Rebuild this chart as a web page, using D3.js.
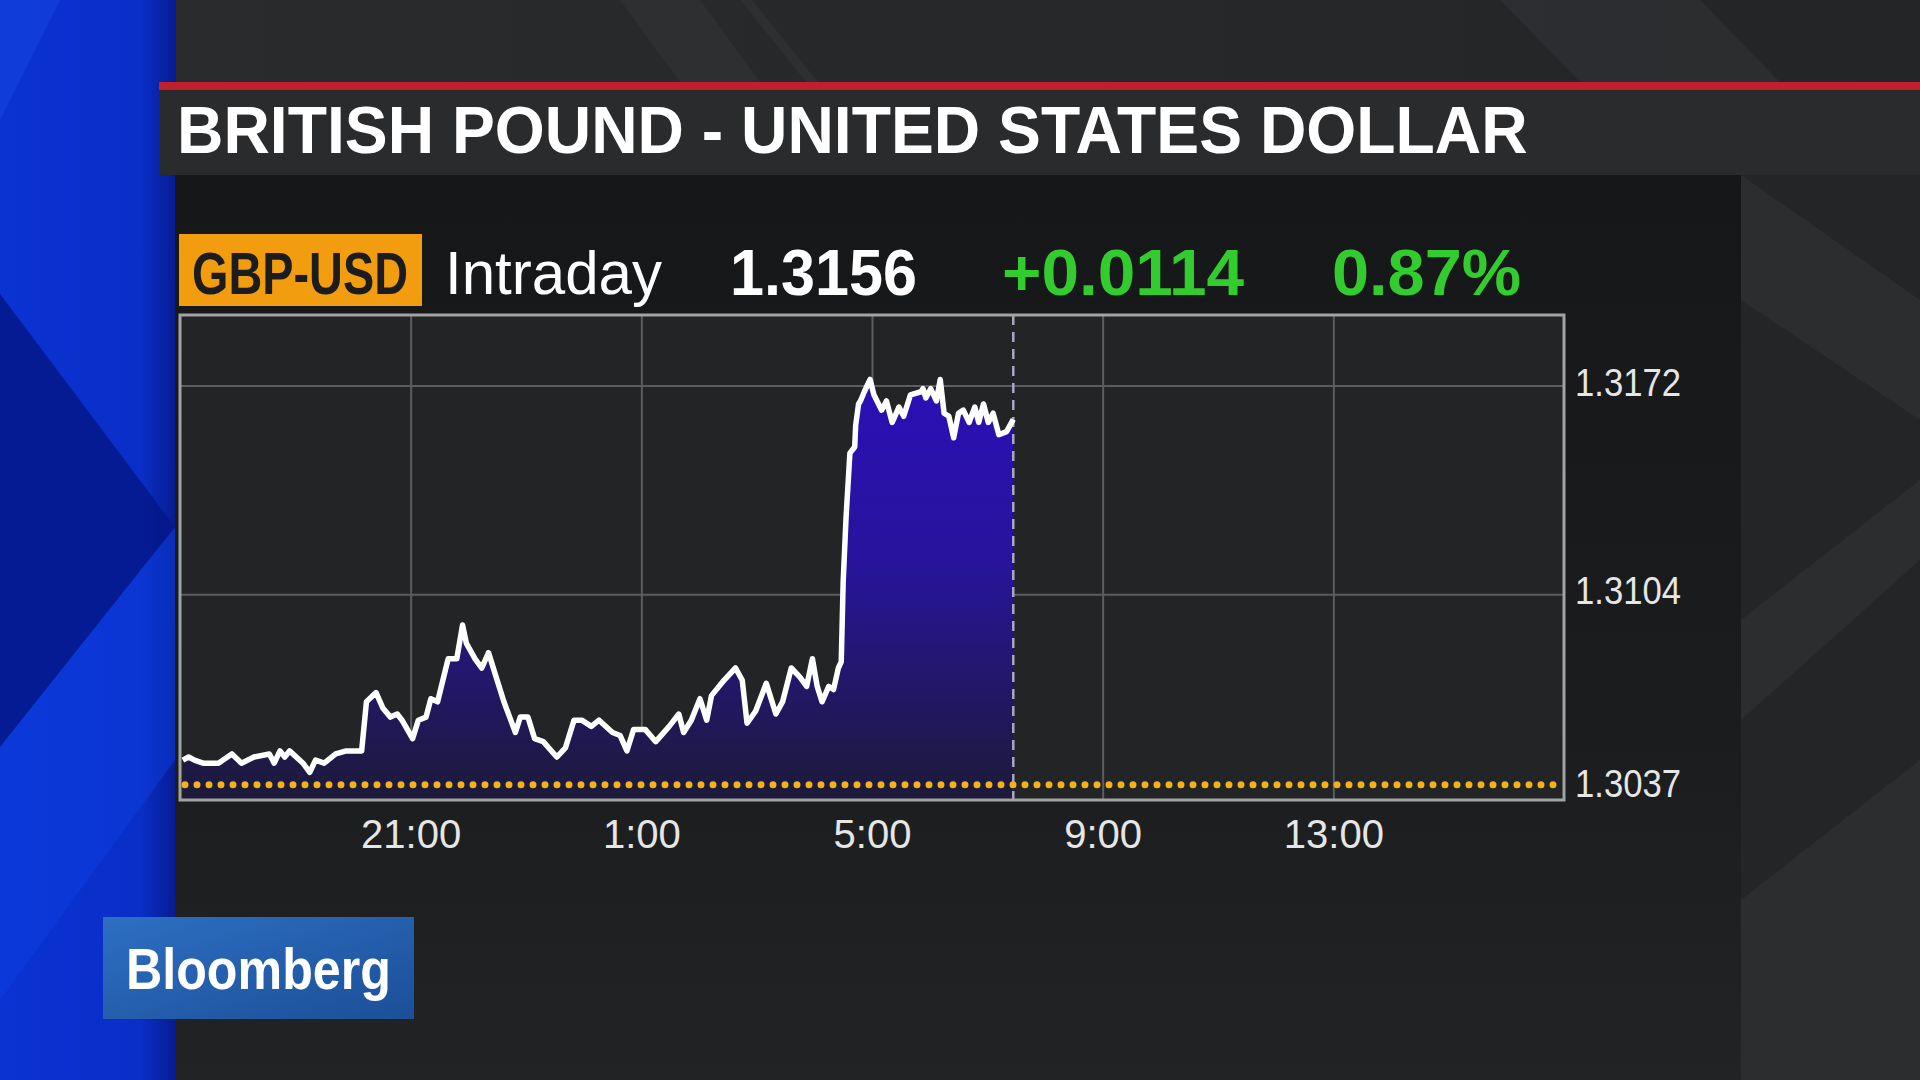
<!DOCTYPE html>
<html><head><meta charset="utf-8">
<script src="https://cdn.jsdelivr.net/npm/d3@7"></script>
<style>html,body{margin:0;padding:0;background:#1a1b1c;overflow:hidden}svg{display:block}</style>
</head><body><svg id="c" width="1920" height="1080"></svg>
<script>
// ---------- data ----------
const title = "BRITISH POUND - UNITED STATES DOLLAR";
const ticker = "GBP-USD";
const period = "Intraday";
const lastPrice = "1.3156";
const netChange = "+0.0114";
const pctChange = "0.87%";
const prevClose = 1.3042;
const sessionStart = "17:00";
const sessionEnd = "17:00";
const xTickLabels = ["21:00", "1:00", "5:00", "9:00", "13:00"];
const yTickValues = [1.3037, 1.3104, 1.3172];
const yGridValues = [1.3104, 1.3172];
const yMin = 1.3037, yMax = 1.3195;
const times = ["17:03","17:09","17:15","17:24","17:40","17:54","18:04","18:17","18:33","18:38","18:44","18:49","18:54","19:08","19:15","19:21","19:30","19:42","19:53","20:09","20:14","20:24","20:31","20:39","20:46","20:51","21:02","21:08","21:16","21:21","21:28","21:39","21:48","21:54","21:58","22:07","22:14","22:21","22:27","22:37","22:49","22:54","23:02","23:09","23:18","23:32","23:41","23:50","23:58","00:08","00:16","00:30","00:38","00:45","00:52","01:04","01:15","01:29","01:39","01:44","01:52","02:01","02:08","02:13","02:26","02:38","02:45","02:50","02:59","03:10","03:20","03:27","03:36","03:45","03:52","03:58","04:03","04:08","04:15","04:20","04:25","04:28","04:30","04:33","04:37","04:42","04:43","04:46","04:48","04:52","04:58","05:02","05:10","05:15","05:21","05:28","05:33","05:40","05:51","05:53","05:56","06:01","06:07","06:11","06:15","06:20","06:25","06:30","06:35","06:41","06:47","06:51","06:56","07:01","07:06","07:12","07:20","07:27"];
const values = [1.3050,1.3051,1.3050,1.3049,1.3049,1.3052,1.3049,1.3051,1.3052,1.3049,1.3053,1.3051,1.3053,1.3049,1.3046,1.3050,1.3049,1.3052,1.3053,1.3053,1.3069,1.3072,1.3067,1.3064,1.3065,1.3063,1.3057,1.3063,1.3064,1.3070,1.3069,1.3083,1.3083,1.3094,1.3088,1.3083,1.3080,1.3085,1.3079,1.3069,1.3059,1.3064,1.3064,1.3057,1.3056,1.3051,1.3054,1.3063,1.3063,1.3061,1.3063,1.3059,1.3058,1.3053,1.3060,1.3060,1.3056,1.3061,1.3065,1.3059,1.3063,1.3070,1.3063,1.3071,1.3076,1.3080,1.3076,1.3062,1.3066,1.3075,1.3065,1.3069,1.3080,1.3077,1.3074,1.3083,1.3074,1.3069,1.3074,1.3073,1.3080,1.3082,1.3108,1.3129,1.3150,1.3152,1.3159,1.3166,1.3167,1.3170,1.3174,1.3169,1.3164,1.3167,1.3160,1.3165,1.3162,1.3169,1.3170,1.3171,1.3168,1.3171,1.3167,1.3174,1.3163,1.3162,1.3155,1.3163,1.3164,1.3160,1.3165,1.3160,1.3166,1.3160,1.3163,1.3156,1.3157,1.3161];

// ---------- helpers ----------
function toDate(s) {
  const [h, m] = s.split(":").map(Number);
  const startH = +sessionStart.split(":")[0];
  return new Date(2017, 0, h >= startH ? 1 : 2, h, m);
}
const data = times.map((t, i) => ({ t: toDate(t), v: values[i] }));

const svg = d3.select("#c");
const defs = svg.append("defs");
const FONT = "'Liberation Sans', Arial, Helvetica, sans-serif";

// text fitted to a width by horizontal scaling (keeps bbox honest)
function fitText(parent, str, x0, yb, width, size, weight, fill) {
  const g = parent.append("g");
  const t = g.append("text").attr("x", 0).attr("y", 0).text(str)
    .attr("font-family", FONT).attr("font-weight", weight).attr("font-size", size).attr("fill", fill);
  const w = t.node().getComputedTextLength();
  const s = width / w;
  g.attr("transform", `translate(${x0},${yb}) scale(${s},1)`);
  return t;
}

// ---------- background ----------
const bgG = defs.append("linearGradient").attr("id", "bgTop").attr("x1", 0).attr("x2", 1).attr("y1", 0).attr("y2", 0);
bgG.append("stop").attr("offset", 0).attr("stop-color", "#2a2b2d");
bgG.append("stop").attr("offset", 1).attr("stop-color", "#242527");
svg.append("rect").attr("width", 1920).attr("height", 1080).attr("fill", "url(#bgTop)");
const stripes = [
  [[620,0],[700,0],[760,82],[680,82]],
  [[740,0],[752,0],[818,82],[806,82]],
  [[1500,0],[1700,0],[1780,82],[1580,82]],
  [[1741,175],[1920,300],[1920,420],[1741,300]],
  [[1741,620],[1920,480],[1920,560],[1741,720]],
  [[1741,900],[1920,760],[1920,1080],[1741,1080]]
];
svg.selectAll(".stripe").data(stripes).join("polygon")
  .attr("points", d => d.map(p => p.join(",")).join(" "))
  .attr("fill", "#36373a").attr("opacity", 0.45);

// left blue band
const blue = defs.append("linearGradient").attr("id", "blue").attr("x1", 0).attr("x2", 1).attr("y1", 0).attr("y2", 0);
blue.append("stop").attr("offset", 0).attr("stop-color", "#0a33d2");
blue.append("stop").attr("offset", 0.8).attr("stop-color", "#0a2ec8");
blue.append("stop").attr("offset", 1).attr("stop-color", "#061c8e");
svg.append("rect").attr("x", 0).attr("y", 0).attr("width", 176).attr("height", 1080).attr("fill", "url(#blue)");
svg.append("polygon").attr("points", "0,294 175,527 0,747").attr("fill", "#05178a").attr("opacity", 0.85);
svg.append("polygon").attr("points", "0,0 60,0 0,120").attr("fill", "#1a4ae6").attr("opacity", 0.4);
svg.append("polygon").attr("points", "0,747 175,527 175,760 0,1000").attr("fill", "#0c3ee0").attr("opacity", 0.5);

// main dark panel
const panelG = defs.append("linearGradient").attr("id", "panel").attr("x1", 0).attr("x2", 0).attr("y1", 0).attr("y2", 1);
panelG.append("stop").attr("offset", 0).attr("stop-color", "#161719");
panelG.append("stop").attr("offset", 0.6).attr("stop-color", "#1b1c1e");
panelG.append("stop").attr("offset", 1).attr("stop-color", "#222325");
svg.append("rect").attr("x", 175).attr("y", 175).attr("width", 1566).attr("height", 905).attr("fill", "url(#panel)");

// title bar
svg.append("rect").attr("x", 159).attr("y", 82).attr("width", 1761).attr("height", 9).attr("fill", "#c11f2b");
svg.append("rect").attr("x", 159).attr("y", 90).attr("width", 1761).attr("height", 85).attr("fill", "#2a2b2d");
fitText(svg, title, 177, 153, 1351, 66, "bold", "#ffffff");

// header row
svg.append("rect").attr("x", 179).attr("y", 234).attr("width", 243).attr("height", 72).attr("fill", "#f29d0f");
fitText(svg, ticker, 192, 294, 216, 60, "bold", "#1c1c1c");
fitText(svg, period, 445, 294, 217, 62, "normal", "#ffffff");
fitText(svg, lastPrice, 730, 295, 187, 64, "bold", "#ffffff");
fitText(svg, netChange, 1002, 295, 242, 64, "bold", "#33cc2e");
fitText(svg, pctChange, 1332, 295, 189, 64, "bold", "#33cc2e");

// ---------- chart ----------
const L = 180, R = 1564, T = 315, B = 800;
const x = d3.scaleTime().domain([toDate(sessionStart), new Date(2017, 0, 2, +sessionEnd.split(":")[0], 0)]).range([L, R]);
const y = d3.scaleLinear().domain([yMin, yMax]).range([B, T]);

svg.append("rect").attr("x", L).attr("y", T).attr("width", R - L).attr("height", B - T).attr("fill", "#222425");

const xTickDates = xTickLabels.map(toDate);
const gx = svg.append("g").attr("transform", `translate(0,${B})`)
  .call(d3.axisBottom(x).tickValues(xTickDates).tickSize(-(B - T)).tickFormat(d3.timeFormat("%-H:%M")).tickPadding(30));
gx.select(".domain").remove();
gx.selectAll("line").attr("stroke", "#5b5d60").attr("stroke-width", 2);
gx.selectAll("text").attr("font-family", FONT).attr("font-size", 40).attr("fill", "#e6e6e6")
  .attr("dy", "0.45em");

const gy = svg.append("g").attr("transform", `translate(${R},0)`)
  .call(d3.axisRight(y).tickValues(yGridValues).tickSize(-(R - L)).tickFormat(""));
gy.select(".domain").remove();
gy.selectAll("line").attr("stroke", "#5b5d60").attr("stroke-width", 2);

// y labels
svg.append("g").selectAll("text").data(yTickValues).join("text")
  .attr("x", 1575).attr("y", d => Math.min(y(d) - 3, B - 16))
  .attr("dominant-baseline", "central")
  .attr("font-family", FONT).attr("font-size", 38).attr("fill", "#e6e6e6")
  .attr("textLength", 106).attr("lengthAdjust", "spacingAndGlyphs")
  .text(d => d.toFixed(4));

// area
const areaGrad = defs.append("linearGradient").attr("id", "area").attr("gradientUnits", "userSpaceOnUse")
  .attr("x1", 0).attr("x2", 0).attr("y1", T + 60).attr("y2", B);
areaGrad.append("stop").attr("offset", 0).attr("stop-color", "#2b0fb8");
areaGrad.append("stop").attr("offset", 0.45).attr("stop-color", "#27149a");
areaGrad.append("stop").attr("offset", 1).attr("stop-color", "#1d1a38");
svg.append("path").datum(data)
  .attr("d", d3.area().x(d => x(d.t)).y0(B).y1(d => y(d.v)))
  .attr("fill", "url(#area)");

// now line
const lastT = data[data.length - 1].t;
svg.append("line").attr("x1", x(lastT)).attr("x2", x(lastT)).attr("y1", T).attr("y2", B)
  .attr("stroke", "#a9a7c4").attr("stroke-width", 2.5).attr("stroke-dasharray", "10,7");

// previous close dotted line
svg.append("line").attr("x1", L + 5).attr("x2", R - 2).attr("y1", y(prevClose)).attr("y2", y(prevClose))
  .attr("stroke", "#f3b11c").attr("stroke-width", 7).attr("stroke-linecap", "round")
  .attr("stroke-dasharray", "0,12");

// price line
svg.append("path").datum(data)
  .attr("d", d3.line().x(d => x(d.t)).y(d => y(d.v)))
  .attr("fill", "none").attr("stroke", "#ffffff").attr("stroke-width", 5.5).attr("stroke-linejoin", "round");

// frame
svg.append("rect").attr("x", L).attr("y", T).attr("width", R - L).attr("height", B - T)
  .attr("fill", "none").attr("stroke", "#a3a3a3").attr("stroke-width", 3);

// ---------- logo ----------
const logoG = defs.append("linearGradient").attr("id", "logo").attr("x1", 0).attr("x2", 1).attr("y1", 0).attr("y2", 1);
logoG.append("stop").attr("offset", 0).attr("stop-color", "#2d6fc2");
logoG.append("stop").attr("offset", 1).attr("stop-color", "#1c4f98");
svg.append("rect").attr("x", 103).attr("y", 917).attr("width", 311).attr("height", 102).attr("fill", "url(#logo)");
fitText(svg, "Bloomberg", 126, 989, 265, 58, "bold", "#ffffff");
</script>
</body></html>
